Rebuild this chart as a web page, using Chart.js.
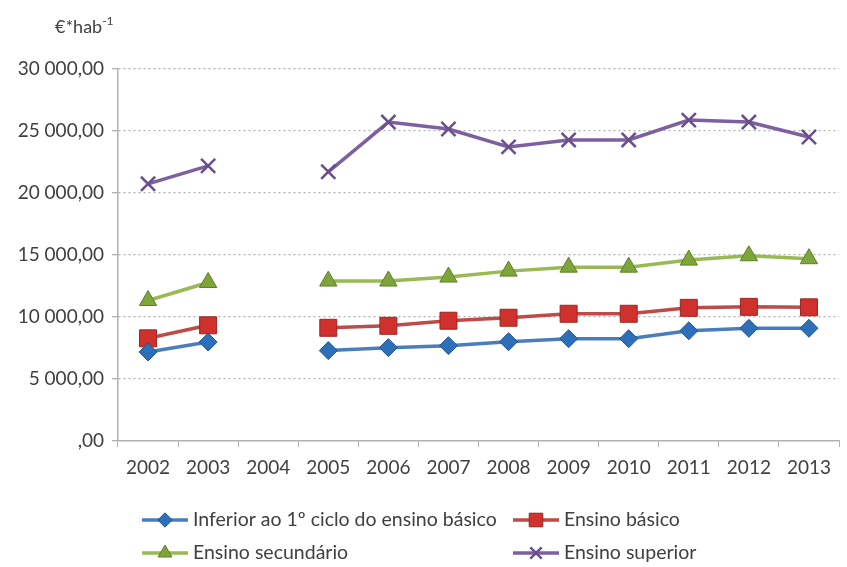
<!DOCTYPE html>
<html>
<head>
<meta charset="utf-8">
<script src="https://cdn.jsdelivr.net/npm/chart.js@4"></script>
<style>
  html, body { margin: 0; padding: 0; background: #fff; overflow: hidden; }
  #wrap { position: relative; width: 847px; height: 567px; overflow: hidden; }
</style>
</head>
<body>
<div id="wrap"><canvas id="chart" width="852" height="567"></canvas></div>
<script>
// Years on the x axis (2004 has no data)
const years = ['2002', '2003', '2004', '2005', '2006', '2007', '2008', '2009', '2010', '2011', '2012', '2013'];

// Values, €*hab-1
const inferior = [7180, 7980, null, 7290, 7530, 7690, 8010, 8250, 8250, 8890, 9090, 9090];
const basico = [8280, 9330, null, 9130, 9290, 9700, 9940, 10260, 10260, 10740, 10820, 10780];
const secundario = [11330, 12780, null, 12900, 12900, 13220, 13700, 14020, 14020, 14590, 14940, 14700];
const superior = [20740, 22190, null, 21710, 25720, 25160, 23720, 24280, 24280, 25880, 25720, 24520];

const yTicks = [0, 5000, 10000, 15000, 20000, 25000, 30000];

const FONT = 'Lato, "Open Sans", sans-serif';
const TXT = '#404040';

function fmt(v) {
    if (v === 0) return ',00';
    const s = String(Math.round(v)).replace(/\B(?=(\d{3})+(?!\d))/g, ' ');
    return s + ',00';
}

// Legend drawn in two fixed columns, like the original
const legendPlugin = {
    id: 'colLegend',
    afterDraw(chart) {
        const ctx = chart.ctx;
        const cols = [142, 513];
        const rows = [520, 553];
        chart.data.datasets.forEach((ds, i) => {
            const x = cols[i % 2];
            const y = rows[Math.floor(i / 2)];
            ctx.save();
            ctx.strokeStyle = ds.borderColor;
            ctx.lineWidth = 3.5;
            ctx.beginPath();
            ctx.moveTo(x, y);
            ctx.lineTo(x + 46, y);
            ctx.stroke();
            ctx.fillStyle = ds.pointBackgroundColor;
            ctx.strokeStyle = ds.pointBorderColor;
            ctx.lineWidth = ds.pointBorderWidth;
            Chart.helpers.drawPoint(ctx, {
                pointStyle: ds.pointStyle,
                radius: ds.pointRadius * 0.8,
                borderWidth: ds.pointBorderWidth
            }, x + 23, y);
            ctx.restore();

            ctx.save();
            ctx.font = '19.5px ' + FONT;
            ctx.fillStyle = TXT;
            ctx.textBaseline = 'middle';
            ctx.fillText(ds.label, x + 51, y);
            ctx.restore();
        });

        // unit label above the y axis
        ctx.save();
        ctx.fillStyle = TXT;
        ctx.textBaseline = 'alphabetic';
        ctx.font = '18px ' + FONT;
        ctx.fillText('€*hab', 55, 33);
        const w = ctx.measureText('€*hab').width;
        ctx.font = '12px ' + FONT;
        ctx.fillText('-1', 55 + w, 25);
        ctx.restore();
    }
};

function series(label, data, line, fill, border, style, radius, bw) {
    return {
        label: label,
        data: data,
        borderColor: line,
        borderWidth: 3.5,
        pointStyle: style,
        pointRadius: radius,
        pointHoverRadius: radius,
        pointBackgroundColor: fill,
        pointBorderColor: border,
        pointBorderWidth: bw,
        spanGaps: false,
        tension: 0
    };
}

const ctx = document.getElementById('chart').getContext('2d');

new Chart(ctx, {
    type: 'line',
    data: {
        labels: years,
        datasets: [
            series('Inferior ao 1º ciclo do ensino básico', inferior, '#4a7ebb', '#2e6fba', '#24558f', 'rectRot', 9, 1),
            series('Ensino básico', basico, '#be4b48', '#d0312d', '#9b2521', 'rect', 12, 1),
            series('Ensino secundário', secundario, '#98b954', '#7ea53a', '#5f7f2a', 'triangle', 10, 1),
            series('Ensino superior', superior, '#7d60a0', '#7d60a0', '#6a4f8c', 'crossRot', 10, 2.5)
        ]
    },
    options: {
        responsive: false,
        animation: false,
        layout: { padding: { top: 69, right: 2, bottom: 0, left: 0 } },
        plugins: {
            legend: { display: false },
            tooltip: { enabled: false }
        },
        scales: {
            x: {
                offset: true,
                afterFit(scale) { scale.height = 126; },
                grid: {
                    offset: true,
                    drawOnChartArea: false,
                    drawTicks: true,
                    tickLength: 6,
                    color: '#b0b0b0'
                },
                border: { display: true, color: '#b0b0b0', width: 1.5 },
                ticks: {
                    color: TXT,
                    font: { family: FONT, size: 19 },
                    padding: 9,
                    maxRotation: 0,
                    autoSkip: false
                }
            },
            y: {
                min: 0,
                max: 30000,
                afterFit(scale) { scale.width = 118; },
                afterBuildTicks(scale) {
                    scale.ticks = yTicks.map(v => ({ value: v }));
                },
                grid: {
                    color: c => c.tick && c.tick.value === 0 ? 'rgba(0,0,0,0)' : '#b0b0b0',
                    tickBorderDash: [],
                    tickColor: '#b0b0b0',
                    tickLength: 6,
                    lineWidth: 1.3
                },
                border: { display: true, color: '#b0b0b0', width: 1.5, dash: [2, 3] },
                ticks: {
                    color: TXT,
                    font: { family: FONT, size: 19 },
                    padding: 8,
                    callback: v => fmt(v)
                }
            }
        }
    },
    plugins: [legendPlugin]
});
</script>
</body>
</html>
